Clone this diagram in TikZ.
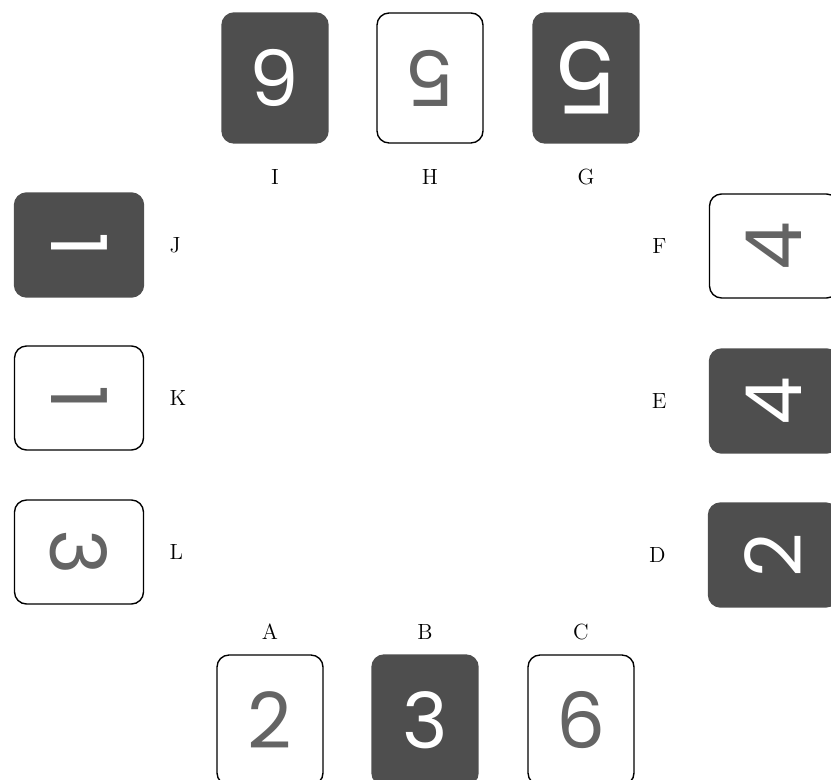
\documentclass[tikz,border=0pt]{standalone}
\usepackage{fontspec}
\usepackage{graphicx}
\usetikzlibrary{positioning}
\newfontfamily\digitfont{Poppins}
\definecolor{CardDark}{RGB}{78,78,78}
\definecolor{DigitGray}{RGB}{100,100,100}
\tikzset{
  upcard/.style={draw=black,rounded corners=0.24cm,line width=0.8pt,
    minimum width=2.12cm,minimum height=2.6cm,inner sep=0pt,
    font=\digitfont\fontsize{44}{44}\selectfont},
  sidecard/.style={upcard,minimum width=2.58cm,minimum height=2.08cm},
  darkface/.style={fill=CardDark,draw=CardDark,text=white},
  lightface/.style={fill=white,text=DigitGray},
  tag/.style={font=\fontsize{12.5}{14}\selectfont,inner sep=0pt}
}
\begin{document}
\begin{tikzpicture}[x=0.02cm,y=-0.02cm]
      \useasboundingbox (0,0) rectangle (831,780);
      % top row
      \node[upcard,darkface] (I) at (275,78) {\rotatebox{180}{6}};
      \node[upcard,lightface] (H) at (430,78) {\rotatebox{180}{5}};
      \node[upcard,darkface,font=\digitfont\fontsize{57}{57}\selectfont] (G) at (586,78) {\rotatebox{180}{5}};
      \node[tag,below=0.5cm of I] (labI) {I};
      \node[tag,below=0.5cm of H] (labH) {H};
      \node[tag,below=0.5cm of G] (labG) {G};
      % left column
      \node[sidecard,darkface] (J) at (79,245) {\rotatebox{-90}{1}};
      \node[sidecard,lightface] (K) at (79,398) {\rotatebox{-90}{1}};
      \node[sidecard,lightface] (L) at (79,552) {\rotatebox{-90}{3}};
      \node[tag,right=0.5cm of J] (labJ) {J};
      \node[tag,right=0.5cm of K] (labK) {K};
      \node[tag,right=0.5cm of L] (labL) {L};
      % right column
      \node[sidecard,lightface] (F) at (774,246) {\rotatebox{90}{4}};
      \node[sidecard,darkface] (E) at (774,401) {\rotatebox{90}{4}};
      \node[sidecard,darkface] (D) at (773,555) {\rotatebox{90}{2}};
      \node[tag,left=0.84cm of F] (labF) {F};
      \node[tag,left=0.84cm of E] (labE) {E};
      \node[tag,left=0.84cm of D] (labD) {D};
      % bottom row
      \node[upcard,lightface] (A) at (270,720) {2};
      \node[upcard,darkface] (B) at (425,720) {3};
      \node[upcard,lightface] (C) at (581,720) {6};
      \node[tag,above=0.28cm of A] (labA) {A};
      \node[tag,above=0.28cm of B] (labB) {B};
      \node[tag,above=0.28cm of C] (labC) {C};
    \end{tikzpicture}
\end{document}
